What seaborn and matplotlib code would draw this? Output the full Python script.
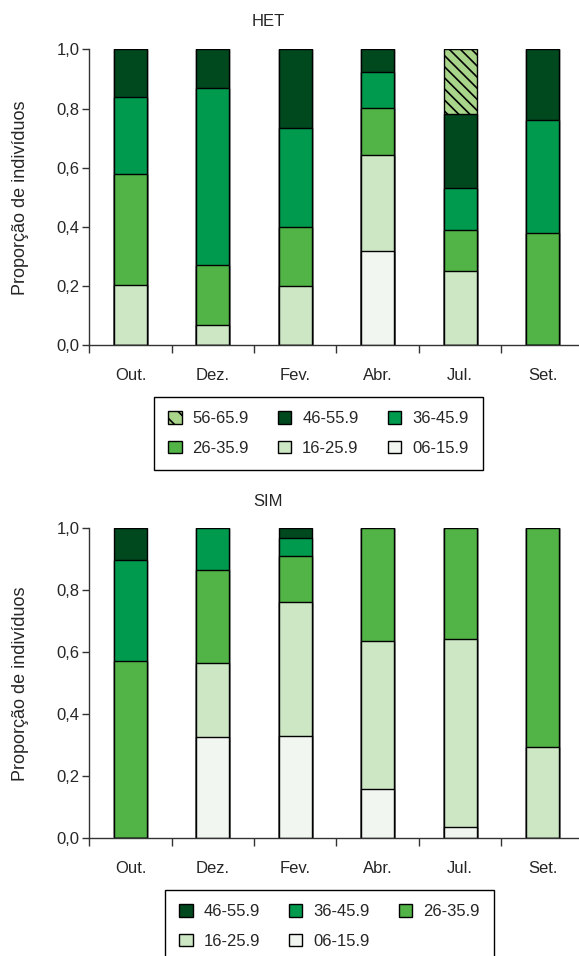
import numpy as np
import matplotlib
matplotlib.use("Agg")
import matplotlib.pyplot as plt
import seaborn as sns
from matplotlib.patches import Patch
from matplotlib.ticker import FuncFormatter

meses = ["Out.", "Dez.", "Fev.", "Abr.", "Jul.", "Set."]
classes = ["06-15.9", "16-25.9", "26-35.9", "36-45.9", "46-55.9", "56-65.9"]

# proporcoes por classe de tamanho, HET
het_06 = [0.0, 0.0, 0.0, 0.32, 0.0, 0.0]
het_16 = [0.205, 0.067, 0.20, 0.323, 0.252, 0.0]
het_26 = [0.375, 0.203, 0.20, 0.159, 0.138, 0.38]
het_36 = [0.26, 0.60, 0.335, 0.122, 0.14, 0.381]
het_46 = [0.16, 0.13, 0.265, 0.076, 0.251, 0.239]
het_56 = [0.0, 0.0, 0.0, 0.0, 0.219, 0.0]

# SIM
sim_06 = [0.0, 0.326, 0.329, 0.158, 0.038, 0.0]
sim_16 = [0.0, 0.239, 0.432, 0.477, 0.604, 0.293]
sim_26 = [0.571, 0.301, 0.150, 0.365, 0.358, 0.707]
sim_36 = [0.328, 0.134, 0.059, 0.0, 0.0, 0.0]
sim_46 = [0.101, 0.0, 0.030, 0.0, 0.0, 0.0]

cores = {
    "06-15.9": "#f1f7f0",
    "16-25.9": "#cde6c4",
    "26-35.9": "#52b447",
    "36-45.9": "#009a4e",
    "46-55.9": "#00481d",
    "56-65.9": "#a9d58b",
}

sns.set_style("ticks")
plt.rcParams["font.family"] = ["Liberation Sans", "DejaVu Sans"]
plt.rcParams["font.size"] = 12
plt.rcParams["hatch.linewidth"] = 1.2


def empilhado(ax, series, nomes):
    # desenha do topo para baixo com somas acumuladas
    acum = np.cumsum(np.array(series), axis=0)
    for i in range(len(series) - 1, -1, -1):
        n0 = len(ax.patches)
        sns.barplot(x=meses, y=acum[i], color=cores[nomes[i]], saturation=1,
                    edgecolor="black", linewidth=1, width=0.4, ax=ax)
        if nomes[i] == "56-65.9":
            for p in ax.patches[n0:]:
                p.set_hatch("\\\\\\")
    ax.set_ylim(0, 1.0)
    ax.set_xlim(-0.5, 5.5)
    ax.set_yticks(np.arange(0, 1.01, 0.2))
    ax.yaxis.set_major_formatter(FuncFormatter(lambda v, _: f"{v:.1f}".replace(".", ",")))
    ax.set_xticks(np.arange(-0.5, 5.6, 1), minor=True)
    ax.tick_params(axis="x", which="major", length=0, pad=16)
    ax.tick_params(axis="x", which="minor", length=6, width=1, color="#333333")
    ax.tick_params(axis="y", length=5, width=1, color="#333333", pad=2)
    ax.set_xlabel("")
    ax.set_ylabel("Proporção de indivíduos", fontsize=13)
    ax.yaxis.set_label_coords(-0.122, 0.5)
    for s in ["top", "right"]:
        ax.spines[s].set_visible(False)
    for s in ["left", "bottom"]:
        ax.spines[s].set_color("#333333")
        ax.spines[s].set_linewidth(1)


fig = plt.figure(figsize=(5.79, 9.56), dpi=100)
ax1 = fig.add_axes([0.1542, 0.6388, 0.8539, 0.3096])
ax2 = fig.add_axes([0.1542, 0.1231, 0.8539, 0.3243])

empilhado(ax1, [het_06, het_16, het_26, het_36, het_46, het_56], classes)
empilhado(ax2, [sim_06, sim_16, sim_26, sim_36, sim_46], classes[:5])

fig.text(268 / 579, 1 - 22 / 956, "HET", ha="center", va="center", fontsize=12)
fig.text(268 / 579, 1 - 502 / 956, "SIM", ha="center", va="center", fontsize=12)


def handle(nome):
    h = "\\\\" if nome == "56-65.9" else None
    return Patch(facecolor=cores[nome], edgecolor="black", linewidth=1, hatch=h, label=nome)


# legenda preenchida por linhas
ordem1 = ["56-65.9", "26-35.9", "46-55.9", "16-25.9", "36-45.9", "06-15.9"]
ordem2 = ["46-55.9", "16-25.9", "36-45.9", "06-15.9", "26-35.9"]

leg_kw = dict(ncol=3, loc="upper left", fancybox=False, framealpha=1,
              edgecolor="black", fontsize=12, handlelength=0.8, handleheight=0.8,
              handletextpad=0.65, columnspacing=1.75, borderpad=0.85, labelspacing=0.85,
              borderaxespad=0)
l1 = fig.legend(handles=[handle(n) for n in ordem1], bbox_to_anchor=(154 / 579, 1 - 397 / 956), **leg_kw)
l2 = fig.legend(handles=[handle(n) for n in ordem2], bbox_to_anchor=(165 / 579, 1 - 890 / 956), **leg_kw)
for l in (l1, l2):
    l.get_frame().set_linewidth(1)

fig.savefig("out.png", dpi=100)
